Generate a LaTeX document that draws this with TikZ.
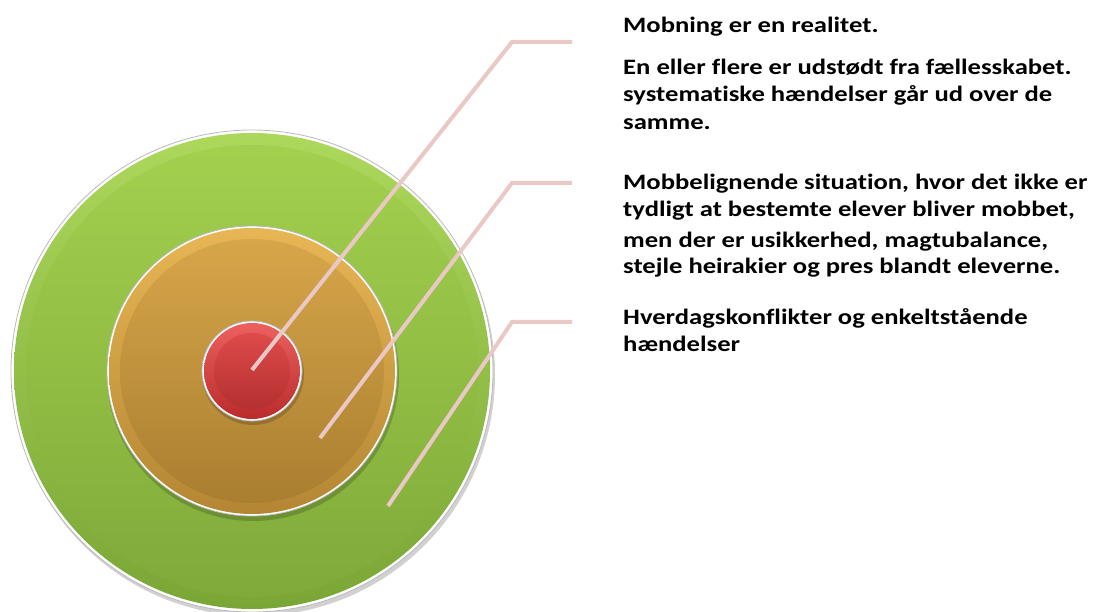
\documentclass[tikz,border=0pt]{standalone}
\usepackage{fontspec}
\setmainfont{Carlito}[FakeStretch=1.21,Ligatures=NoCommon]
\begin{document}
\begin{tikzpicture}[x=1pt,y=-1pt,
  lbl/.style={anchor=base west,inner sep=0pt,font=\bfseries\fontsize{22}{27}\selectfont,text=black},
  leader/.style={draw=leadc,line width=4pt,line join=miter},
  rim/.style={fill=white,draw=gray!55,line width=0.8pt},
  shadow/.style={fill=black,opacity=0.18}]
\definecolor{leadc}{RGB}{233,200,198}
\definecolor{gtop}{RGB}{172,216,92}
\definecolor{gbot}{RGB}{122,166,54}
\definecolor{gitop}{RGB}{162,208,78}
\definecolor{gibot}{RGB}{128,170,58}
\definecolor{otop}{RGB}{232,182,84}
\definecolor{obot}{RGB}{180,134,52}
\definecolor{oitop}{RGB}{214,166,74}
\definecolor{oibot}{RGB}{170,126,48}
\definecolor{rtop}{RGB}{236,96,96}
\definecolor{rbot}{RGB}{186,44,44}
\definecolor{ritop}{RGB}{222,74,74}
\definecolor{ribot}{RGB}{180,48,48}
\useasboundingbox (0,0) rectangle (1093,612);
\coordinate (c) at (252,371);
% outer green
\fill[shadow] (254,375) circle (241pt);
\filldraw[rim] (c) circle (241pt);
\shade[top color=gtop,bottom color=gbot] (c) circle (238pt);
\shade[top color=gitop,bottom color=gibot] (c) circle (226pt);
% middle orange
\fill[shadow] (253,375) circle (146pt);
\filldraw[rim] (c) circle (145pt);
\shade[top color=otop,bottom color=obot] (c) circle (143pt);
\shade[top color=oitop,bottom color=oibot] (c) circle (132pt);
% inner red
\fill[shadow] (253,374) circle (51pt);
\filldraw[rim] (c) circle (50pt);
\shade[top color=rtop,bottom color=rbot] (c) circle (48pt);
\shade[top color=ritop,bottom color=ribot] (c) circle (38pt);
% leader coordinates
\coordinate (p1) at (252,370);
\coordinate (k1) at (512,42);
\coordinate (e1) at (572,42);
\coordinate (p2) at (320,438);
\coordinate (k2) at (512,183);
\coordinate (e2) at (572,183);
\coordinate (p3) at (388,506);
\coordinate (k3) at (512,322);
\coordinate (e3) at (572,322);
\draw[leader] (p1) -- (k1) -- (e1);
\draw[leader] (p2) -- (k2) -- (e2);
\draw[leader] (p3) -- (k3) -- (e3);
% texts
\node[lbl] (t1) at (623,33) {Mobning er en realitet.};
\node[lbl] (t2) at (623,75) {En eller flere er udstødt fra fællesskabet.};
\node[lbl] (t3) at (623,102) {systematiske hændelser går ud over de};
\node[lbl] (t4) at (623,130) {samme.};
\node[lbl] (t5) at (623,190) {Mobbelignende situation, hvor det ikke er};
\node[lbl] (t6) at (623,217) {tydligt at bestemte elever bliver mobbet,};
\node[lbl] (t7) at (623,248) {men der er usikkerhed, magtubalance,};
\node[lbl] (t8) at (623,274) {stejle heirakier og pres blandt eleverne.};
\node[lbl] (t9) at (623,325) {Hverdagskonflikter og enkeltstående};
\node[lbl] (t10) at (623,352) {hændelser};
\end{tikzpicture}
\end{document}
